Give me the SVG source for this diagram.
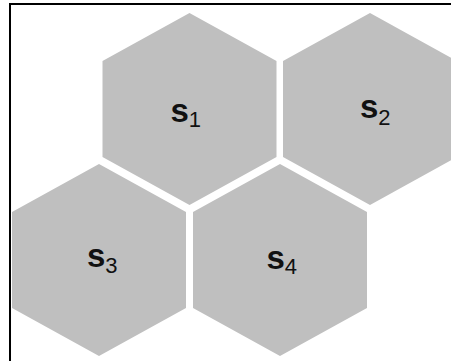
<svg xmlns="http://www.w3.org/2000/svg" width="451" height="361" viewBox="0 0 451 361">
<defs>
<style>
.hex{fill:#bfbfbf;stroke:none}
.lbl{font-family:"Liberation Sans",Arial,sans-serif;font-size:33px;font-weight:bold;fill:#111}
.sub{font-size:22px;font-weight:normal}
.frame{stroke:#000;stroke-width:2;fill:none}
</style>
<polygon id="hexshape" points="0,-96 87,-48 87,48 0,96 -87,48 -87,-48"/>
</defs>
<rect width="451" height="361" fill="#fff"/>
<path class="frame" d="M10,361 V4 H451"/>
<g id="connectors"></g>
<g id="s1">
<use href="#hexshape" class="hex" transform="translate(189.5,109)"/>
<text class="lbl" x="170.5" y="122">s<tspan class="sub" dy="5">1</tspan></text>
</g>
<g id="s2">
<use href="#hexshape" class="hex" transform="translate(370,109)"/>
<text class="lbl" x="360" y="118">s<tspan class="sub" dy="7">2</tspan></text>
</g>
<g id="s3">
<use href="#hexshape" class="hex" transform="translate(99,260)"/>
<text class="lbl" x="87" y="267">s<tspan class="sub" dy="6">3</tspan></text>
</g>
<g id="s4">
<use href="#hexshape" class="hex" transform="translate(280,260)"/>
<text class="lbl" x="266.5" y="269">s<tspan class="sub" dy="5">4</tspan></text>
</g>
</svg>
